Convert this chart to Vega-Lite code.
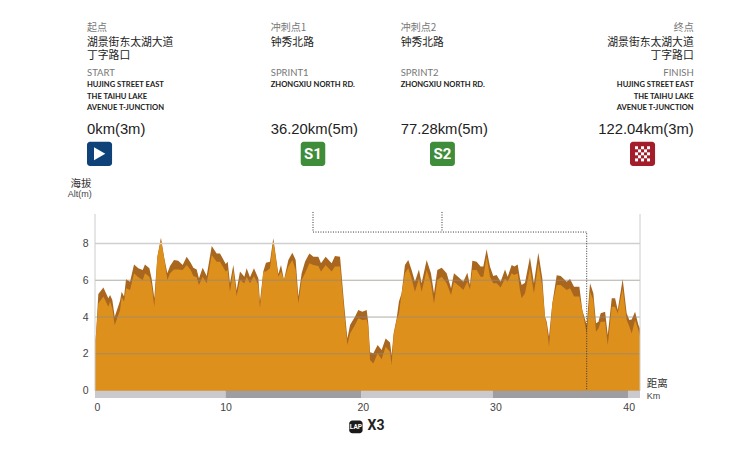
{"$schema":"https://vega.github.io/schema/vega-lite/v6.json","autosize":"none","width":545,"height":184,"padding":{"left":95,"top":214,"right":110,"bottom":55},"background":"white","view":{"stroke":null},
"datasets":{"profile":[
{"km":0,"top":2.57,"inner":2.57},{"km":0.08,"top":3.11,"inner":3.11},{"km":0.25,"top":5.25,"inner":4.74},{"km":0.63,"top":5.61,"inner":5.11},{"km":1.0,"top":5.02,"inner":4.56},{"km":1.13,"top":5.2,"inner":4.84},{"km":1.3,"top":4.93,"inner":4.47},{"km":1.48,"top":4.02,"inner":3.57},{"km":1.88,"top":4.89,"inner":4.38},{"km":2.0,"top":5.38,"inner":5.07},{"km":2.18,"top":5.11,"inner":4.84},{"km":2.33,"top":6.05,"inner":5.56},{"km":2.63,"top":5.92,"inner":5.47},{"km":2.93,"top":6.86,"inner":6.38},{"km":3.25,"top":6.65,"inner":6.16},{"km":3.58,"top":6.56,"inner":6.01},{"km":3.75,"top":6.86,"inner":6.38},{"km":4.08,"top":6.65,"inner":6.19},{"km":4.25,"top":6.1,"inner":5.74},{"km":4.45,"top":5.02,"inner":4.56},{"km":4.68,"top":7.28,"inner":7.28},{"km":4.95,"top":8.31,"inner":8.19},{"km":5.18,"top":7.28,"inner":7.25},{"km":5.43,"top":6.38,"inner":6.01},{"km":5.63,"top":6.77,"inner":6.38},{"km":5.93,"top":7.1,"inner":6.59},{"km":6.25,"top":7.06,"inner":6.59},{"km":6.58,"top":6.83,"inner":6.56},{"km":6.88,"top":7.28,"inner":6.83},{"km":7.18,"top":6.95,"inner":6.56},{"km":7.38,"top":6.68,"inner":6.23},{"km":7.63,"top":6.59,"inner":6.16},{"km":7.8,"top":6.1,"inner":5.74},{"km":8.08,"top":6.68,"inner":6.19},{"km":8.38,"top":6.23,"inner":5.83},{"km":8.76,"top":7.86,"inner":7.37},{"km":9.13,"top":7.46,"inner":7.01},{"km":9.38,"top":7.46,"inner":7.01},{"km":9.81,"top":6.88,"inner":6.47},{"km":9.96,"top":7.01,"inner":6.56},{"km":10.13,"top":5.83,"inner":5.38},{"km":10.38,"top":6.83,"inner":6.56},{"km":10.63,"top":5.47,"inner":5.14},{"km":10.88,"top":6.47,"inner":6.01},{"km":11.21,"top":6.19,"inner":5.83},{"km":11.38,"top":6.65,"inner":6.19},{"km":11.63,"top":6.16,"inner":5.83},{"km":11.93,"top":6.65,"inner":6.23},{"km":12.26,"top":6.1,"inner":5.74},{"km":12.38,"top":4.84,"inner":4.47},{"km":12.63,"top":6.47,"inner":6.47},{"km":12.83,"top":6.95,"inner":6.47},{"km":13.13,"top":7.01,"inner":6.65},{"km":13.38,"top":8.28,"inner":8.19},{"km":13.76,"top":6.34,"inner":6.19},{"km":13.96,"top":6.83,"inner":6.47},{"km":14.18,"top":6.01,"inner":6.01},{"km":14.51,"top":7.1,"inner":6.74},{"km":14.81,"top":7.5,"inner":7.1},{"km":15.06,"top":7.1,"inner":6.56},{"km":15.26,"top":5.11,"inner":4.74},{"km":15.51,"top":6.38,"inner":6.01},{"km":15.76,"top":7.01,"inner":6.38},{"km":16.09,"top":7.46,"inner":6.92},{"km":16.39,"top":7.28,"inner":6.83},{"km":16.76,"top":7.28,"inner":6.77},{"km":16.96,"top":6.92,"inner":6.47},{"km":17.31,"top":7.28,"inner":6.83},{"km":17.76,"top":6.92,"inner":6.47},{"km":18.01,"top":7.32,"inner":6.74},{"km":18.39,"top":7.28,"inner":6.74},{"km":18.69,"top":4.74,"inner":4.38},{"km":18.94,"top":2.84,"inner":2.48},{"km":19.14,"top":3.57,"inner":3.11},{"km":19.51,"top":4.02,"inner":3.57},{"km":19.76,"top":4.38,"inner":3.93},{"km":20.06,"top":4.29,"inner":3.84},{"km":20.39,"top":4.38,"inner":3.87},{"km":20.51,"top":3.66,"inner":3.48},{"km":20.64,"top":2.08,"inner":1.66},{"km":20.89,"top":2.03,"inner":1.48},{"km":21.21,"top":2.48,"inner":2.03},{"km":21.51,"top":2.21,"inner":1.7},{"km":21.81,"top":2.84,"inner":2.39},{"km":22.14,"top":2.61,"inner":2.12},{"km":22.26,"top":1.94,"inner":1.39},{"km":22.41,"top":3.11,"inner":3.02},{"km":22.64,"top":3.93,"inner":3.84},{"km":22.81,"top":4.84,"inner":4.2},{"km":23.01,"top":5.29,"inner":5.29},{"km":23.26,"top":6.83,"inner":6.38},{"km":23.51,"top":7.1,"inner":6.65},{"km":23.76,"top":6.56,"inner":6.1},{"km":24.01,"top":5.92,"inner":5.38},{"km":24.31,"top":6.59,"inner":6.1},{"km":24.51,"top":5.83,"inner":5.38},{"km":24.89,"top":7.1,"inner":6.56},{"km":25.21,"top":6.38,"inner":5.83},{"km":25.44,"top":5.29,"inner":4.74},{"km":25.69,"top":6.56,"inner":6.01},{"km":26.02,"top":6.68,"inner":6.19},{"km":26.39,"top":6.38,"inner":5.83},{"km":26.72,"top":5.56,"inner":5.2},{"km":26.94,"top":6.38,"inner":5.92},{"km":27.39,"top":6.1,"inner":5.65},{"km":27.64,"top":5.92,"inner":5.47},{"km":27.94,"top":6.41,"inner":5.92},{"km":28.14,"top":5.74,"inner":5.5},{"km":28.32,"top":7.06,"inner":6.56},{"km":28.64,"top":7.01,"inner":6.56},{"km":28.94,"top":6.74,"inner":6.19},{"km":29.14,"top":6.74,"inner":6.19},{"km":29.39,"top":7.68,"inner":7.28},{"km":29.64,"top":6.74,"inner":6.19},{"km":29.89,"top":6.23,"inner":5.83},{"km":30.14,"top":6.28,"inner":5.83},{"km":30.44,"top":5.92,"inner":5.61},{"km":30.77,"top":6.59,"inner":6.1},{"km":30.97,"top":6.19,"inner":5.92},{"km":31.27,"top":6.83,"inner":6.38},{"km":31.47,"top":6.74,"inner":6.28},{"km":31.72,"top":6.86,"inner":6.38},{"km":31.89,"top":6.1,"inner":5.47},{"km":32.02,"top":5.74,"inner":5.02},{"km":32.27,"top":5.87,"inner":5.29},{"km":32.64,"top":7.25,"inner":6.65},{"km":32.94,"top":5.83,"inner":5.29},{"km":33.27,"top":7.5,"inner":6.92},{"km":33.57,"top":6.1,"inner":5.65},{"km":33.77,"top":4.02,"inner":4.02},{"km":33.9,"top":3.75,"inner":3.57},{"km":34.07,"top":2.93,"inner":2.39},{"km":34.32,"top":4.74,"inner":4.74},{"km":34.65,"top":6.27,"inner":5.74},{"km":34.95,"top":6.23,"inner":5.74},{"km":35.4,"top":5.92,"inner":5.47},{"km":35.65,"top":6.07,"inner":5.56},{"km":35.95,"top":5.65,"inner":5.11},{"km":36.35,"top":5.65,"inner":5.11},{"km":36.57,"top":4.38,"inner":4.38},{"km":36.9,"top":3.57,"inner":3.11},{"km":37.15,"top":5.83,"inner":5.38},{"km":37.4,"top":5.29,"inner":4.93},{"km":37.6,"top":3.66,"inner":3.2},{"km":37.78,"top":3.75,"inner":3.38},{"km":37.95,"top":4.2,"inner":3.75},{"km":38.28,"top":4.29,"inner":3.75},{"km":38.48,"top":3.02,"inner":2.48},{"km":38.78,"top":5.02,"inner":4.56},{"km":39.03,"top":5.02,"inner":4.56},{"km":39.23,"top":4.38,"inner":4.2},{"km":39.6,"top":6.07,"inner":5.56},{"km":39.9,"top":4.2,"inner":3.84},{"km":40.1,"top":3.84,"inner":3.48},{"km":40.28,"top":3.87,"inner":3.11},{"km":40.53,"top":4.29,"inner":3.84},{"km":40.78,"top":3.57,"inner":3.29},{"km":40.9,"top":3.38,"inner":2.93}],
"bands":[{"from":0,"to":9.8,"shade":"a"},{"from":9.8,"to":20,"shade":"b"},{"from":20,"to":29.85,"shade":"a"},{"from":29.85,"to":40,"shade":"b"},{"from":40,"to":40.9,"shade":"a"}],
"route":[{"km":16.36,"alt":9.71,"leg":"main","o":1},{"km":16.36,"alt":8.62,"leg":"main","o":2},{"km":36.9,"alt":8.62,"leg":"main","o":3},{"km":36.9,"alt":0,"leg":"main","o":4},{"km":26.04,"alt":9.71,"leg":"branch","o":1},{"km":26.04,"alt":8.62,"leg":"branch","o":2}],
"icons":[{"km":-0.6,"km2":1.28,"alt":13.53,"alt2":12.21,"point":"start"},{"km":15.44,"km2":17.28,"alt":13.53,"alt2":12.21,"point":"s1"},{"km":25.14,"km2":27.01,"alt":13.53,"alt2":12.21,"point":"s2"},{"km":40.15,"km2":42.03,"alt":13.53,"alt2":12.21,"point":"finish"},{"km":19.08,"km2":20.08,"alt":-1.62,"alt2":-2.31,"point":"lap"}],
"checks":[{"km":40.64,"alt":13.2},{"km":41.09,"alt":13.2},{"km":41.54,"alt":13.2},{"km":40.865,"alt":13.03},{"km":41.315,"alt":13.03},{"km":40.64,"alt":12.87},{"km":41.09,"alt":12.87},{"km":41.54,"alt":12.87},{"km":40.865,"alt":12.71},{"km":41.315,"alt":12.71},{"km":40.64,"alt":12.54},{"km":41.09,"alt":12.54},{"km":41.54,"alt":12.54}],
"small":[{"km":-0.6,"alt":19.69,"t":"起点"},{"km":13.19,"alt":19.69,"t":"冲刺点1"},{"km":22.94,"alt":19.69,"t":"冲刺点2"}],
"names":[{"km":-0.6,"alt":18.88,"t":["湖景街东太湖大道","丁字路口"]},{"km":13.19,"alt":18.88,"t":"钟秀北路"},{"km":22.94,"alt":18.88,"t":"钟秀北路"}],
"en":[{"km":-0.6,"alt":17.25,"t":"START"},{"km":13.19,"alt":17.25,"t":"SPRINT1"},{"km":22.94,"alt":17.25,"t":"SPRINT2"}],
"road":[{"km":-0.6,"alt":16.61,"t":["HUJING STREET EAST","THE TAIHU LAKE","AVENUE T-JUNCTION"]},{"km":13.19,"alt":16.61,"t":"ZHONGXIU NORTH RD."},{"km":22.94,"alt":16.61,"t":"ZHONGXIU NORTH RD."}],
"dist":[{"km":-0.6,"alt":14.17,"t":"0km(3m)"},{"km":13.19,"alt":14.17,"t":"36.20km(5m)"},{"km":22.94,"alt":14.17,"t":"77.28km(5m)"}]},
"layer":[
{"data":{"name":"profile"},"mark":{"type":"area","color":"#a9661f"},"encoding":{"x":{"field":"km","type":"quantitative","scale":{"domain":[0,40.9],"nice":false,"zero":false},"axis":{"values":[0.15,9.8,20.1,30.05,40.05],"labelExpr":"round(datum.value/10)*10","title":null,"grid":false,"domain":false,"ticks":false,"labelFontSize":10.5,"labelColor":"#444","labelFont":"Liberation Sans","labelPadding":4,"labelBound":false,"labelFlush":false}},"y":{"field":"top","type":"quantitative","scale":{"domain":[-0.4,9.6],"nice":false,"zero":false},"axis":{"values":[0,2,4,6,8],"title":null,"grid":false,"domain":false,"ticks":false,"labelFontSize":10.5,"labelColor":"#444","labelFont":"Liberation Sans","labelPadding":7}},"y2":{"datum":0}}},
{"data":{"name":"profile"},"mark":{"type":"area","color":"#de901c"},"encoding":{"x":{"field":"km","type":"quantitative"},"y":{"field":"inner","type":"quantitative"},"y2":{"datum":0}}},
{"data":{"values":[{"alt":2},{"alt":4},{"alt":6}]},"mark":{"type":"rule","color":"#8f8a80","opacity":0.7,"strokeWidth":1},"encoding":{"y":{"field":"alt","type":"quantitative"}}},
{"data":{"values":[{"alt":8}]},"mark":{"type":"rule","color":"#cfcfcf","strokeWidth":1.5},"encoding":{"y":{"field":"alt","type":"quantitative"}}},
{"data":{"values":[{"km":0,"alt":9.6,"alt2":0},{"km":40.9,"alt":9.6,"alt2":0}]},"mark":{"type":"rule","color":"#cccccc","strokeWidth":1},"encoding":{"x":{"field":"km","type":"quantitative"},"y":{"field":"alt","type":"quantitative"},"y2":{"field":"alt2"}}},
{"data":{"name":"bands"},"mark":{"type":"rect"},"encoding":{"x":{"field":"from","type":"quantitative"},"x2":{"field":"to"},"y":{"datum":0},"y2":{"datum":-0.4},"color":{"field":"shade","type":"nominal","scale":{"domain":["a","b"],"range":["#c9c9ce","#9d9da2"]},"legend":null}}},
{"data":{"name":"route"},"mark":{"type":"line","color":"#333333","strokeWidth":1,"strokeDash":[1,1.5],"clip":false},"encoding":{"x":{"field":"km","type":"quantitative"},"y":{"field":"alt","type":"quantitative"},"detail":{"field":"leg"},"order":{"field":"o","type":"ordinal"}}},
{"data":{"name":"icons"},"mark":{"type":"rect","cornerRadius":3},"encoding":{"x":{"field":"km","type":"quantitative"},"x2":{"field":"km2"},"y":{"field":"alt","type":"quantitative"},"y2":{"field":"alt2"},"fill":{"field":"point","type":"nominal","scale":{"domain":["start","s1","s2","finish","lap"],"range":["#0f4279","#3f8c3a","#3f8c3a","#a31d2a","#1a1a1a"]},"legend":null}}},
{"data":{"values":[{"km":0.35,"alt":12.87}]},"mark":{"type":"point","shape":"triangle-right","filled":true,"color":"white","opacity":1,"size":170},"encoding":{"x":{"field":"km","type":"quantitative"},"y":{"field":"alt","type":"quantitative"}}},
{"data":{"name":"checks"},"mark":{"type":"square","color":"white","opacity":1,"size":9},"encoding":{"x":{"field":"km","type":"quantitative"},"y":{"field":"alt","type":"quantitative"}}},
{"data":{"values":[{"km":16.36,"alt":12.87,"t":"S1"},{"km":26.07,"alt":12.87,"t":"S2"}]},"mark":{"type":"text","font":"Roboto","fontWeight":"bold","fontSize":15,"color":"white","align":"center","baseline":"middle"},"encoding":{"x":{"field":"km","type":"quantitative"},"y":{"field":"alt","type":"quantitative"},"text":{"field":"t"}}},
{"data":{"values":[{"km":19.58,"alt":-1.97,"t":"LAP"}]},"mark":{"type":"text","font":"Roboto","fontWeight":"bold","fontSize":6.5,"color":"white","align":"center","baseline":"middle"},"encoding":{"x":{"field":"km","type":"quantitative"},"y":{"field":"alt","type":"quantitative"},"text":{"field":"t"}}},
{"data":{"values":[{"km":20.45,"alt":-1.92,"t":"X3"}]},"mark":{"type":"text","font":"Roboto","fontWeight":"bold","fontSize":14,"color":"#222222","align":"left","baseline":"middle"},"encoding":{"x":{"field":"km","type":"quantitative"},"y":{"field":"alt","type":"quantitative"},"text":{"field":"t"}}},
{"data":{"name":"small"},"mark":{"type":"text","font":"Noto Sans CJK SC","fontSize":10,"color":"#777777","align":"left","baseline":"middle"},"encoding":{"x":{"field":"km","type":"quantitative"},"y":{"field":"alt","type":"quantitative"},"text":{"field":"t"}}},
{"data":{"values":[{"km":44.93,"alt":19.69,"t":"终点"}]},"mark":{"type":"text","font":"Noto Sans CJK SC","fontSize":10,"color":"#777777","align":"right","baseline":"middle"},"encoding":{"x":{"field":"km","type":"quantitative"},"y":{"field":"alt","type":"quantitative"},"text":{"field":"t"}}},
{"data":{"name":"names"},"mark":{"type":"text","font":"Noto Sans CJK SC","fontSize":10.8,"lineHeight":13,"color":"#222222","align":"left","baseline":"middle"},"encoding":{"x":{"field":"km","type":"quantitative"},"y":{"field":"alt","type":"quantitative"},"text":{"field":"t"}}},
{"data":{"values":[{"km":44.93,"alt":18.88,"t":["湖景街东太湖大道","丁字路口"]}]},"mark":{"type":"text","font":"Noto Sans CJK SC","fontSize":10.8,"lineHeight":13,"color":"#222222","align":"right","baseline":"middle"},"encoding":{"x":{"field":"km","type":"quantitative"},"y":{"field":"alt","type":"quantitative"},"text":{"field":"t"}}},
{"data":{"name":"en"},"mark":{"type":"text","font":"Lato","fontSize":9.5,"color":"#777777","align":"left","baseline":"middle"},"encoding":{"x":{"field":"km","type":"quantitative"},"y":{"field":"alt","type":"quantitative"},"text":{"field":"t"}}},
{"data":{"values":[{"km":44.93,"alt":17.25,"t":"FINISH"}]},"mark":{"type":"text","font":"Lato","fontSize":9.5,"color":"#777777","align":"right","baseline":"middle"},"encoding":{"x":{"field":"km","type":"quantitative"},"y":{"field":"alt","type":"quantitative"},"text":{"field":"t"}}},
{"data":{"name":"road"},"mark":{"type":"text","font":"Lato","fontSize":7.6,"fontWeight":"bold","lineHeight":11.5,"color":"#222222","align":"left","baseline":"middle"},"encoding":{"x":{"field":"km","type":"quantitative"},"y":{"field":"alt","type":"quantitative"},"text":{"field":"t"}}},
{"data":{"values":[{"km":44.93,"alt":16.61,"t":["HUJING STREET EAST","THE TAIHU LAKE","AVENUE T-JUNCTION"]}]},"mark":{"type":"text","font":"Lato","fontSize":7.6,"fontWeight":"bold","lineHeight":11.5,"color":"#222222","align":"right","baseline":"middle"},"encoding":{"x":{"field":"km","type":"quantitative"},"y":{"field":"alt","type":"quantitative"},"text":{"field":"t"}}},
{"data":{"name":"dist"},"mark":{"type":"text","font":"Liberation Sans","fontSize":14.8,"color":"#222222","align":"left","baseline":"middle"},"encoding":{"x":{"field":"km","type":"quantitative"},"y":{"field":"alt","type":"quantitative"},"text":{"field":"t"}}},
{"data":{"values":[{"km":44.93,"alt":14.17,"t":"122.04km(3m)"}]},"mark":{"type":"text","font":"Liberation Sans","fontSize":14.8,"color":"#222222","align":"right","baseline":"middle"},"encoding":{"x":{"field":"km","type":"quantitative"},"y":{"field":"alt","type":"quantitative"},"text":{"field":"t"}}},
{"data":{"values":[{"km":-0.27,"alt":11.21,"t":"海拔"}]},"mark":{"type":"text","font":"Noto Sans CJK SC","fontSize":10.5,"color":"#333333","align":"right","baseline":"middle"},"encoding":{"x":{"field":"km","type":"quantitative"},"y":{"field":"alt","type":"quantitative"},"text":{"field":"t"}}},
{"data":{"values":[{"km":-0.25,"alt":10.68,"t":"Alt(m)"}]},"mark":{"type":"text","font":"Liberation Sans","fontSize":9,"color":"#444444","align":"right","baseline":"middle"},"encoding":{"x":{"field":"km","type":"quantitative"},"y":{"field":"alt","type":"quantitative"},"text":{"field":"t"}}},
{"data":{"values":[{"km":41.4,"alt":0.36,"t":"距离"}]},"mark":{"type":"text","font":"Noto Sans CJK SC","fontSize":10.5,"color":"#333333","align":"left","baseline":"middle"},"encoding":{"x":{"field":"km","type":"quantitative"},"y":{"field":"alt","type":"quantitative"},"text":{"field":"t"}}},
{"data":{"values":[{"km":41.4,"alt":-0.28,"t":"Km"}]},"mark":{"type":"text","font":"Liberation Sans","fontSize":9,"color":"#444444","align":"left","baseline":"middle"},"encoding":{"x":{"field":"km","type":"quantitative"},"y":{"field":"alt","type":"quantitative"},"text":{"field":"t"}}}
]}
